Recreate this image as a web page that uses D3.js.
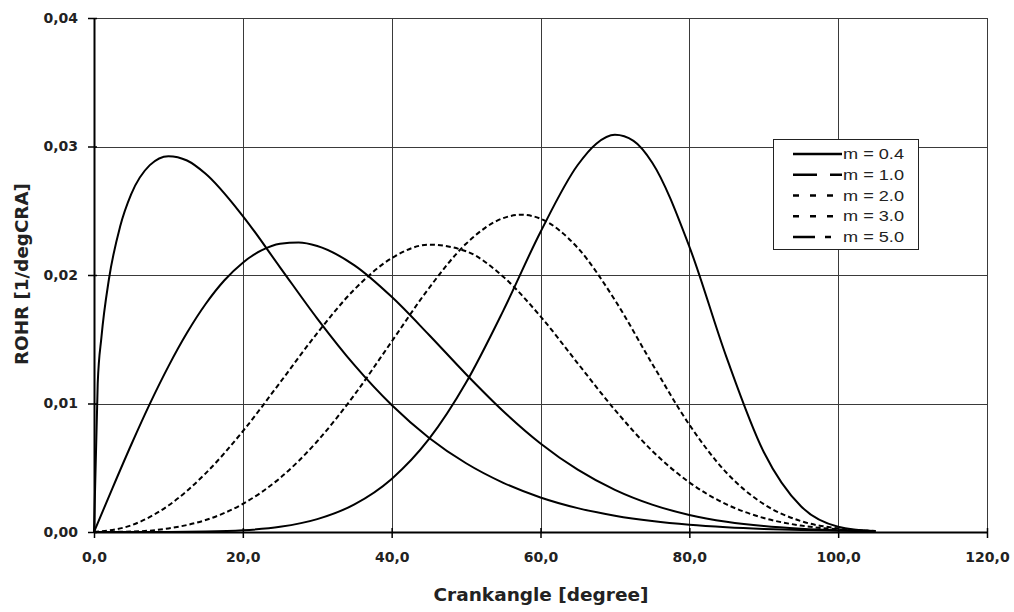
<!DOCTYPE html>
<html>
<head>
<meta charset="utf-8">
<script src="https://cdn.jsdelivr.net/npm/d3@7"></script>
<style>
  html, body { margin: 0; padding: 0; background: #fff; }
  svg { display: block; }
</style>
</head>
<body>
<svg id="chart" width="1014" height="612"></svg>
<script>
// ---- data ----
const seriesNames = ["m = 0.4", "m = 1.0", "m = 2.0", "m = 3.0", "m = 5.0"];

const angle04 = [0, 0.5, 1, 2, 3.5, 5, 7.5, 10, 12.5, 15, 20, 25, 30, 35, 40, 45, 50, 55, 60, 65, 70, 75, 80, 85, 90, 95, 100, 105];
const rohr04  = [0, 0.01157, 0.01516, 0.01965, 0.02375, 0.02629, 0.02855, 0.02925, 0.02891, 0.02788, 0.02459, 0.02060, 0.01661, 0.01298, 0.00988, 0.00734, 0.00535, 0.00383, 0.00269, 0.00186, 0.00127, 0.00085, 0.00056, 0.00037, 0.00024, 0.00015, 0.00010, 0.00006];

const angle10 = [0, 2.5, 5, 7.5, 10, 12.5, 15, 17.5, 20, 22.5, 25, 27.5, 30, 35, 40, 45, 50, 55, 60, 65, 70, 75, 80, 85, 90, 95, 100, 105];
const rohr10  = [0, 0.00344, 0.00679, 0.00997, 0.01289, 0.01550, 0.01774, 0.01957, 0.02096, 0.02191, 0.02243, 0.02253, 0.02226, 0.02075, 0.01830, 0.01535, 0.01228, 0.00940, 0.00689, 0.00485, 0.00328, 0.00213, 0.00133, 0.00080, 0.00046, 0.00026, 0.00014, 0.00007];

const angle20 = [0, 5, 10, 15, 20, 25, 30, 35, 40, 45, 50, 55, 60, 65, 70, 75, 80, 85, 90, 95, 100, 105];
const rohr20  = [0, 0.00052, 0.00206, 0.00456, 0.00784, 0.01163, 0.01548, 0.01888, 0.02131, 0.02236, 0.02185, 0.01986, 0.01678, 0.01313, 0.00950, 0.00632, 0.00386, 0.00215, 0.00109, 0.00050, 0.00021, 0.00008];

const angle30 = [0, 5, 10, 15, 20, 25, 30, 35, 40, 45, 50, 55, 57.5, 60, 65, 70, 75, 80, 85, 90, 95, 100, 105];
const rohr30  = [0, 0.00003, 0.00028, 0.00093, 0.00219, 0.00420, 0.00706, 0.01068, 0.01482, 0.01897, 0.02243, 0.02443, 0.02469, 0.02438, 0.02211, 0.01805, 0.01310, 0.00835, 0.00461, 0.00217, 0.00085, 0.00028, 0.00007];

const angle50 = [0, 10, 15, 20, 25, 30, 35, 40, 45, 50, 55, 60, 65, 67.5, 70, 72.5, 75, 80, 85, 90, 95, 100, 105];
const rohr50  = [0, 0.000004, 0.00003, 0.00013, 0.00040, 0.00100, 0.00215, 0.00413, 0.00722, 0.01163, 0.01723, 0.02335, 0.02856, 0.03022, 0.03091, 0.03044, 0.02876, 0.02221, 0.01359, 0.00623, 0.00200, 0.00041, 0.00005];

const xTicks = [0, 20, 40, 60, 80, 100, 120];
const yTicks = [0, 0.01, 0.02, 0.03, 0.04];
const xTitle = "Crankangle [degree]";
const yTitle = "ROHR [1/degCRA]";

// ---- layout ----
const svg = d3.select("#chart");
const pLeft = 94, pRight = 987, pTop = 18, pBottom = 532;

const x = d3.scaleLinear().domain([0, 120]).range([pLeft, pRight]);
const y = d3.scaleLinear().domain([0, 0.04]).range([pBottom, pTop]);

const loc = d3.formatLocale({decimal: ",", thousands: ".", grouping: [3], currency: ["", ""]});
const fx = loc.format(".1f");
const fy = loc.format(".2f");

// grid
const grid = svg.append("g");
grid.selectAll("line.h").data(yTicks.filter(d => d > 0)).join("line")
  .attr("class", "h")
  .attr("x1", pLeft).attr("x2", pRight)
  .attr("y1", d => Math.round(y(d)) + 0.5).attr("y2", d => Math.round(y(d)) + 0.5)
  .attr("stroke", "#3a3a3a").attr("stroke-width", 1);
grid.selectAll("line.v").data(xTicks.filter(d => d > 0)).join("line")
  .attr("class", "v")
  .attr("y1", pTop).attr("y2", pBottom)
  .attr("x1", d => Math.round(x(d)) + 0.5).attr("x2", d => Math.round(x(d)) + 0.5)
  .attr("stroke", "#3a3a3a").attr("stroke-width", 1);

// curves
const series = [
  {name: seriesNames[0], xs: angle04, ys: rohr04, dash: null,  legendDash: null},
  {name: seriesNames[1], xs: angle10, ys: rohr10, dash: null,  legendDash: "24,13"},
  {name: seriesNames[2], xs: angle20, ys: rohr20, dash: "5,3", legendDash: "6,11"},
  {name: seriesNames[3], xs: angle30, ys: rohr30, dash: "5,3", legendDash: "6,11"},
  {name: seriesNames[4], xs: angle50, ys: rohr50, dash: null,  legendDash: "22,10,6,20"}
];

const line = d3.line()
  .x(d => x(d[0])).y(d => y(d[1]))
  .curve(d3.curveMonotoneX);

svg.append("g").selectAll("path").data(series).join("path")
  .attr("d", s => line(s.xs.map((a, i) => [a, s.ys[i]])))
  .attr("fill", "none")
  .attr("stroke", "#000")
  .attr("stroke-width", 2)
  .attr("stroke-dasharray", s => s.dash);

// axes
const yAxis = d3.axisLeft(y).tickValues(yTicks).tickFormat(fy).tickSizeInner(6).tickSizeOuter(0).tickPadding(10);
const xAxis = d3.axisBottom(x).tickValues(xTicks).tickFormat(fx).tickSizeInner(6).tickSizeOuter(0).tickPadding(14);

const gy = svg.append("g").attr("transform", `translate(${pLeft},0)`).call(yAxis);
const gx = svg.append("g").attr("transform", `translate(0,${pBottom})`).call(xAxis);

[gx, gy].forEach(g => {
  g.select(".domain").attr("stroke", "#000").attr("stroke-width", 2);
  g.selectAll(".tick line").attr("stroke", "#000").attr("stroke-width", 1.5);
  g.selectAll(".tick text")
    .attr("font-family", "'DejaVu Sans', sans-serif")
    .attr("font-weight", "bold")
    .attr("font-size", 14)
    .attr("fill", "#222");
});
gy.selectAll(".tick line").attr("x1", 3);
gx.selectAll(".tick line").attr("y1", -4);

// axis titles
svg.append("text")
  .attr("x", 541).attr("y", 601)
  .attr("text-anchor", "middle")
  .attr("font-family", "'DejaVu Sans', sans-serif")
  .attr("font-weight", "bold")
  .attr("font-size", 18)
  .attr("fill", "#222")
  .attr("textLength", 215).attr("lengthAdjust", "spacingAndGlyphs")
  .text(xTitle);

svg.append("text")
  .attr("transform", "translate(28,274) rotate(-90)")
  .attr("text-anchor", "middle")
  .attr("font-family", "'DejaVu Sans', sans-serif")
  .attr("font-weight", "bold")
  .attr("font-size", 18)
  .attr("fill", "#222")
  .attr("textLength", 182).attr("lengthAdjust", "spacingAndGlyphs")
  .text(yTitle);

// legend
const lg = svg.append("g");
lg.append("rect")
  .attr("x", 773.5).attr("y", 139.5).attr("width", 145).attr("height", 110)
  .attr("fill", "#fff").attr("stroke", "#222").attr("stroke-width", 1);

const rowY = d3.scalePoint().domain(seriesNames).range([154, 237]);
const rows = lg.selectAll("g.row").data(series).join("g")
  .attr("class", "row")
  .attr("transform", s => `translate(0,${rowY(s.name)})`);
rows.append("line")
  .attr("x1", 793).attr("x2", 842).attr("y1", 0).attr("y2", 0)
  .attr("stroke", "#000").attr("stroke-width", 2.5)
  .attr("stroke-dasharray", s => s.legendDash);
rows.append("text")
  .attr("x", 843).attr("y", 5)
  .attr("font-family", "'Liberation Sans', Arial, sans-serif")
  .attr("font-size", 15)
  .attr("fill", "#222")
  .attr("textLength", 61).attr("lengthAdjust", "spacingAndGlyphs")
  .text(s => s.name);
</script>
</body>
</html>
